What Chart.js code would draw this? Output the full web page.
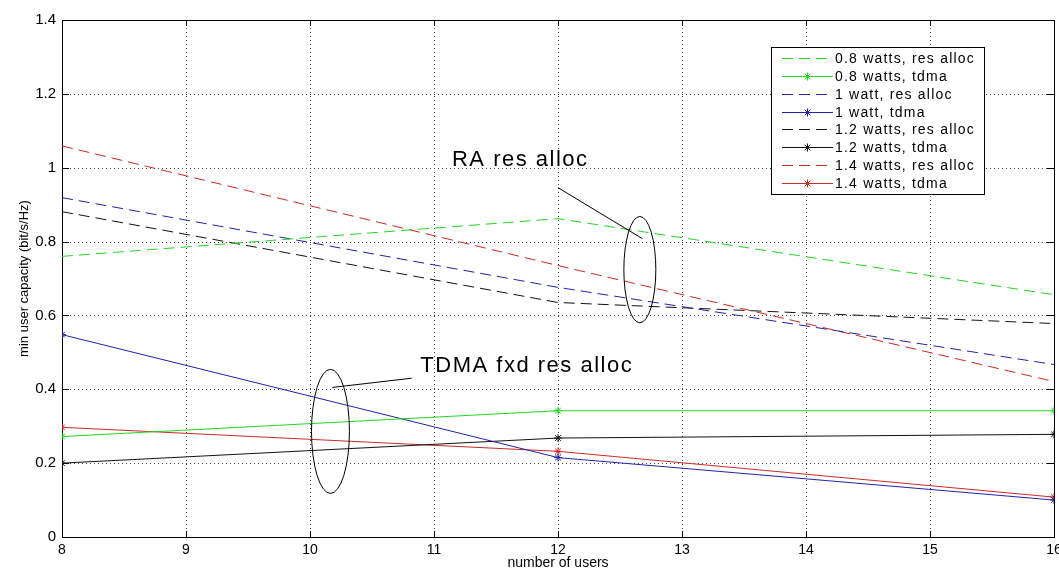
<!DOCTYPE html>
<html><head><meta charset="utf-8">
<script src="https://cdn.jsdelivr.net/npm/chart.js@4"></script>
<style>html,body{margin:0;padding:0;background:#fff;}#wrap{width:1059px;height:570px;position:relative;}</style>
</head><body><div id="wrap"><canvas id="c"></canvas></div>
<script>
// ---- data ----
const users = [8, 12, 16];
const ra08 = [0.760, 0.862, 0.656];
const td08 = [0.272, 0.342, 0.342];
const ra10 = [0.919, 0.676, 0.467];
const td10 = [0.548, 0.215, 0.100];
const ra12 = [0.881, 0.635, 0.578];
const td12 = [0.200, 0.268, 0.278];
const ra14 = [1.059, 0.735, 0.421];
const td14 = [0.297, 0.232, 0.108];
const seriesLabels = ['0.8 watts, res alloc','0.8 watts, tdma','1 watt, res alloc','1 watt, tdma','1.2 watts, res alloc','1.2 watts, tdma','1.4 watts, res alloc','1.4 watts, tdma'];
const xTickValues = [8,9,10,11,12,13,14,15,16];
const yTickValues = [0,0.2,0.4,0.6,0.8,1.0,1.2,1.4];
const xTitle = 'number of users';
const yTitle = 'min user capacity (bit/s/Hz)';
const raLabel = 'RA res alloc';
const tdLabel = 'TDMA fxd res alloc';

const GREEN='#22d822', BLUE='#2222aa', BLACK='#111111', RED='#d02828';
const pts = arr => users.map((u,i)=>({x:u,y:arr[i]}));
function ds(label, arr, color, dashed){
  return {label, data: pts(arr), borderColor: color, backgroundColor: color,
    borderWidth: 1, borderDash: dashed ? [11,6] : [], tension: 0,
    pointStyle: 'star', pointRadius: dashed ? 0 : 4, pointBorderWidth: 1,
    pointBorderColor: color, fill: false, _dashed: dashed};
}
const datasets = [
  ds(seriesLabels[0], ra08, GREEN, true), ds(seriesLabels[1], td08, GREEN, false),
  ds(seriesLabels[2], ra10, BLUE, true),  ds(seriesLabels[3], td10, BLUE, false),
  ds(seriesLabels[4], ra12, BLACK, true), ds(seriesLabels[5], td12, BLACK, false),
  ds(seriesLabels[6], ra14, RED, true),   ds(seriesLabels[7], td14, RED, false)
];

const FONT = '"Liberation Sans", Arial, sans-serif';

// grid, box and inner ticks
const frame = {
  id:'frame',
  beforeDatasetsDraw(chart){
    const {ctx, chartArea:a, scales:{x,y}} = chart;
    ctx.save();
    ctx.strokeStyle = '#444'; ctx.lineWidth = 1; ctx.setLineDash([1,3]);
    xTickValues.forEach(v=>{ const px=Math.round(x.getPixelForValue(v))+0.5;
      ctx.beginPath(); ctx.moveTo(px,a.top); ctx.lineTo(px,a.bottom); ctx.stroke(); });
    yTickValues.forEach(v=>{ const py=Math.round(y.getPixelForValue(v))+0.5;
      ctx.beginPath(); ctx.moveTo(a.left,py); ctx.lineTo(a.right,py); ctx.stroke(); });
    ctx.setLineDash([]); ctx.strokeStyle='#000';
    xTickValues.forEach(v=>{ const px=Math.round(x.getPixelForValue(v))+0.5;
      ctx.beginPath(); ctx.moveTo(px,a.bottom); ctx.lineTo(px,a.bottom-6);
      ctx.moveTo(px,a.top); ctx.lineTo(px,a.top+6); ctx.stroke(); });
    yTickValues.forEach(v=>{ const py=Math.round(y.getPixelForValue(v))+0.5;
      ctx.beginPath(); ctx.moveTo(a.left,py); ctx.lineTo(a.left+7,py);
      ctx.moveTo(a.right,py); ctx.lineTo(a.right-7,py); ctx.stroke(); });
    ctx.strokeRect(Math.round(a.left)+0.5, Math.round(a.top)+0.5, Math.round(a.right-a.left), Math.round(a.bottom-a.top));
    ctx.restore();
  }
};

// annotations placed in data coordinates
const annotations = {
  id:'annot',
  afterDatasetsDraw(chart){
    const {ctx, scales:{x,y}} = chart;
    const X=v=>x.getPixelForValue(v), Y=v=>y.getPixelForValue(v);
    ctx.save();
    ctx.fillStyle='#000'; ctx.strokeStyle='#000'; ctx.lineWidth=1;
    ctx.font = '22px '+FONT; ctx.textBaseline='middle'; ctx.textAlign='left';
    ctx.letterSpacing = '1.5px';
    ctx.fillText(raLabel, X(11.145), Y(1.022));
    ctx.fillText(tdLabel, X(10.89), Y(0.462));
    ctx.letterSpacing = '0px';
    ctx.beginPath(); ctx.moveTo(X(12.0),Y(0.946)); ctx.lineTo(X(12.68),Y(0.808)); ctx.stroke();
    ctx.beginPath(); ctx.moveTo(X(10.18),Y(0.405)); ctx.lineTo(X(10.82),Y(0.430)); ctx.stroke();
    const ell=(cx,cy,dx,dy)=>{ ctx.beginPath();
      ctx.ellipse(X(cx),Y(cy),Math.abs(X(cx+dx)-X(cx)),Math.abs(Y(cy+dy)-Y(cy)),0,0,Math.PI*2); ctx.stroke(); };
    ell(12.66,0.724,0.129,0.144);
    ell(10.165,0.286,0.153,0.168);
    ctx.restore();
  }
};

// legend box inside the plot
const legendBox = {
  id:'legendBox',
  afterDraw(chart){
    const {ctx} = chart;
    const left=771, top=47, w=213, h=147, rowH=17.86, y0=58;
    ctx.save();
    ctx.fillStyle='#fff'; ctx.fillRect(left,top,w,h);
    ctx.strokeStyle='#000'; ctx.lineWidth=1; ctx.strokeRect(left+0.5,top+0.5,w,h);
    ctx.font='14px '+FONT; ctx.textBaseline='middle'; ctx.textAlign='left';
    chart.data.datasets.forEach((d,i)=>{
      const cy=Math.round(y0+i*rowH)+0.5;
      ctx.strokeStyle=d.borderColor; ctx.lineWidth=1;
      ctx.setLineDash(d._dashed?[11,6]:[]);
      ctx.beginPath(); ctx.moveTo(782,cy); ctx.lineTo(833,cy); ctx.stroke();
      ctx.setLineDash([]);
      if(!d._dashed){
        const mx=807.5, r=4;
        ctx.beginPath();
        ctx.moveTo(mx-r,cy); ctx.lineTo(mx+r,cy); ctx.moveTo(mx,cy-r); ctx.lineTo(mx,cy+r);
        const q=r*0.707; ctx.moveTo(mx-q,cy-q); ctx.lineTo(mx+q,cy+q); ctx.moveTo(mx-q,cy+q); ctx.lineTo(mx+q,cy-q);
        ctx.stroke();
      }
      ctx.fillStyle='#000'; ctx.letterSpacing='1.2px'; ctx.fillText(d.label, 835, cy+0.5); ctx.letterSpacing='0px';
    });
    ctx.restore();
  }
};

new Chart(document.getElementById('c'), {
  type:'line',
  data:{datasets},
  options:{
    responsive:true, maintainAspectRatio:false, animation:false, devicePixelRatio:1,
    layout:{padding:{top:20,right:3,left:0,bottom:0}},
    plugins:{legend:{display:false}, tooltip:{enabled:false}},
    scales:{
      x:{type:'linear', min:8, max:16,
        afterBuildTicks(s){ s.ticks = xTickValues.map(v=>({value:v})); },
        afterFit(s){ s.height=33; s.paddingLeft=0; s.paddingRight=0; },
        grid:{display:false, drawTicks:false}, border:{display:false},
        ticks:{padding:5, color:'#000', maxRotation:0, autoSkip:false, font:{family:FONT, size:14}},
        title:{display:true, text:xTitle, color:'#000', padding:{top:0,bottom:-2}, font:{family:FONT, size:14}}
      },
      y:{type:'linear', min:0, max:1.4,
        afterBuildTicks(s){ s.ticks = yTickValues.map(v=>({value:v})); },
        afterFit(s){ s.width=62; },
        grid:{display:false, drawTicks:false}, border:{display:false},
        ticks:{padding:6, color:'#000', autoSkip:false, font:{family:FONT, size:15},
          callback:v=>String(parseFloat(Number(v).toFixed(1)))},
        title:{display:true, text:yTitle, color:'#000', padding:{top:17,bottom:0}, font:{family:FONT, size:13}}
      }
    }
  },
  plugins:[frame, annotations, legendBox]
});
</script></body></html>
